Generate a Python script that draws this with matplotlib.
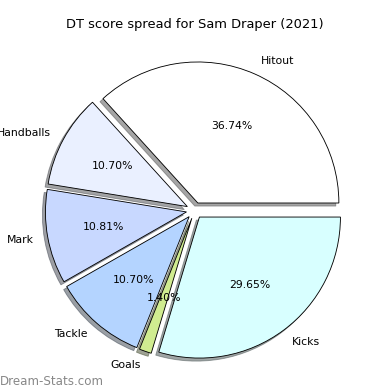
import matplotlib
matplotlib.use('Agg')
import matplotlib.pyplot as plt

# DT score spread data
labels = ['Hitout', 'Handballs', 'Mark', 'Tackle', 'Goals', 'Kicks']
values = [36.74, 10.70, 10.81, 10.70, 1.40, 29.65]
colors = ['#ffffff', '#eaf0ff', '#c8d8ff', '#b4d4ff', '#d0ec90', '#d8ffff']
explode = [0.058] * len(values)

fig = plt.figure(figsize=(5, 5), dpi=78)
ax = fig.add_axes([0.0468, 0.0083, 0.904, 0.904])

wedges, texts, autotexts = ax.pie(values, labels=labels, colors=colors,
                                  explode=explode, autopct='%1.2f%%',
                                  shadow=True, startangle=0,
                                  wedgeprops={'edgecolor': 'black', 'linewidth': 0.8})
ax.set_title('DT score spread for Sam Draper (2021)')

fig.text(0.0, 0.013, 'Dream-Stats.com', fontsize=11, color='#888888')

fig.savefig('out.png', dpi=78)
